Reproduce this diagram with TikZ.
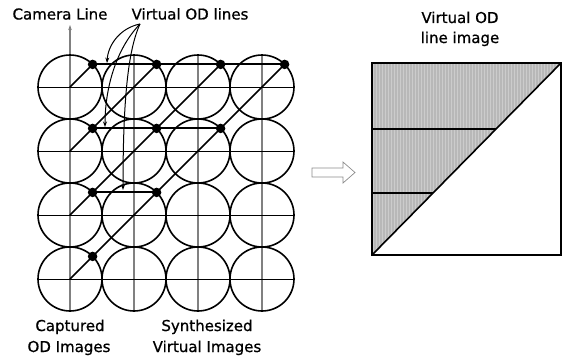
\documentclass[tikz,border=0pt]{standalone}
\usepackage{fontspec}
\setmainfont{DejaVu Sans}[FakeBold=0.8]
\usetikzlibrary{arrows.meta}
\begin{document}
\begin{tikzpicture}[x=1pt,y=-1pt,
  lbl/.style={font=\fontsize{15}{18}\selectfont, anchor=base, inner sep=0pt},
  ring/.style={draw=black, line width=1.6pt},
  gridv/.style={draw=black!50, line width=1.1pt},
  gridh/.style={draw=black, line width=0.9pt},
  odline/.style={draw=black, line width=1.9pt},
  diag/.style={draw=black, line width=1.6pt},
  dotn/.style={circle, fill=black, inner sep=0pt, minimum size=9.5pt},
  callout/.style={-{Stealth[length=5.5pt,width=4pt]}, line width=1pt},
  shade/.style={fill=black!28},
  frame/.style={draw=black, line width=1.6pt},
  hollow/.style={draw=black!45, fill=white, line width=0.7pt},
]
\useasboundingbox (0,0) rectangle (562,356);
% circle centres
\foreach \i/\x in {1/70,2/134,3/198,4/262}
  \foreach \j/\y in {1/87,2/151,3/215,4/279}
    \coordinate (c\i\j) at (\x,\y);
% grid lines
\coordinate (camtop) at (70,25);
\coordinate (cambot) at (70,311);
\draw[gridv, -{Stealth[length=5pt,width=3.5pt]}] (cambot) -- (camtop);
\foreach \x in {134,198,262}
  \draw[gridv] (\x,55) -- (\x,311);
\foreach \y in {87,151,215,279}
  \draw[gridh] (38,\y) -- (294,\y);
% circles
\foreach \i in {1,2,3,4}
  \foreach \j in {1,2,3,4}
    \draw[ring] (c\i\j) circle[radius=32pt];
% dots
\foreach \i/\x in {1/92.6,2/156.6,3/220.6,4/284.6}
  \node[dotn] (d\i1) at (\x,64.4) {};
\foreach \i/\x in {1/92.6,2/156.6,3/220.6}
  \node[dotn] (d\i2) at (\x,128.4) {};
\foreach \i/\x in {1/92.6,2/156.6}
  \node[dotn] (d\i3) at (\x,192.4) {};
\node[dotn] (d14) at (92.6,256.4) {};
% diagonals
\draw[diag] (c11) -- (d11.center);
\draw[diag] (c12) -- (d21.center);
\draw[diag] (c13) -- (d31.center);
\draw[diag] (c14) -- (d41.center);
% virtual OD lines
\draw[odline] (d11.center) -- (d41.center);
\draw[odline] (d12.center) -- (d32.center);
\draw[odline] (d13.center) -- (d23.center);
% labels
\node[lbl] (cam) at (60,19.5) {Camera Line};
\node[lbl] (vod) at (190,19.5) {Virtual OD lines};
\node[lbl] (cap1) at (70,331) {Captured};
\node[lbl] (cap2) at (69,352) {OD Images};
\node[lbl] (syn1) at (207,331) {Synthesized};
\node[lbl] (syn2) at (207,352) {Virtual Images};
% callout arrows
\coordinate (vsrc) at (140,24);
\coordinate (t1) at (107,63);
\coordinate (t2) at (105,127);
\coordinate (t3) at (123,190);
\draw[callout] (vsrc) .. controls (120,28) and (108,45) .. (t1);
\draw[callout] (vsrc) .. controls (115,50) and (105,90) .. (t2);
\draw[callout] (vsrc) .. controls (128,50) and (123,100) .. (t3);
% hollow arrow
\draw[hollow] (312,168) -- (343,168) -- (343,162) -- (355,172.5) -- (343,183) -- (343,177) -- (312,177) -- cycle;
% right panel
\coordinate (bl) at (372,255);
\coordinate (tl) at (372,63);
\coordinate (tr) at (561,63);
\coordinate (br) at (561,255);
\coordinate (h1l) at (372,129);
\coordinate (h1r) at (496,129);
\coordinate (h2l) at (372,193);
\coordinate (h2r) at (433,193);
\fill[shade] (bl) -- (tl) -- (tr) -- cycle;
\begin{scope}
  \clip (bl) -- (tl) -- (tr) -- cycle;
  \foreach \k in {0,...,62}
    \draw[black!20, line width=0.7pt] (373.5+3*\k,63) -- (373.5+3*\k,255);
\end{scope}
\draw[frame] (bl) rectangle (tr);
\draw[frame] (bl) -- (tr);
\draw[frame] (h1l) -- (h1r);
\draw[frame] (h2l) -- (h2r);
\node[lbl] (vimg1) at (460,23) {Virtual OD};
\node[lbl] (vimg2) at (460,43) {line image};
\end{tikzpicture}
\end{document}
